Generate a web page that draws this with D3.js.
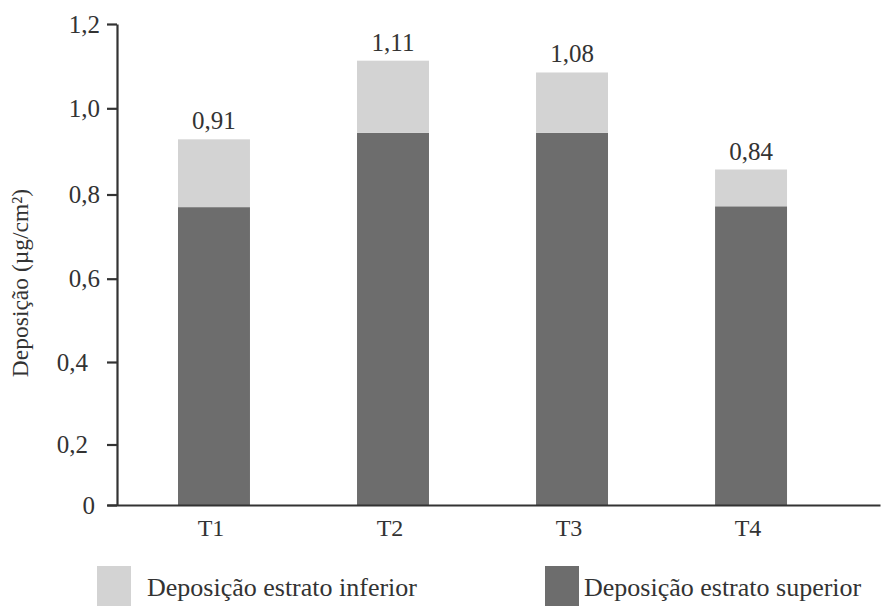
<!DOCTYPE html>
<html>
<head>
<meta charset="utf-8">
<script src="https://cdn.jsdelivr.net/npm/d3@7"></script>
<style>
  html, body { margin: 0; padding: 0; background: #fff; }
  svg { display: block; }
  text { font-family: "Liberation Serif", "Times New Roman", serif; fill: #333; }
</style>
</head>
<body>
<svg id="chart" width="881" height="606"></svg>
<script>
const categories = ["T1", "T2", "T3", "T4"];
const superior = [0.770, 0.943, 0.943, 0.772];
const inferior = [0.158, 0.170, 0.142, 0.086];
const valueLabels = ["0,91", "1,11", "1,08", "0,84"];
const yTickValues = [0, 0.2, 0.4, 0.6, 0.8, 1.0, 1.2];
const yTickLabels = ["0", "0,2", "0,4", "0,6", "0,8", "1,0", "1,2"];
const seriesNames = ["Deposição estrato inferior", "Deposição estrato superior"];
const yTitle = "Deposição (µg/cm²)";

const colLight = "#d3d3d3", colDark = "#6d6d6d", axisCol = "#333";
const svg = d3.select("#chart");
const FS = 25;

const rows = categories.map((c, i) => ({ cat: c, superior: superior[i], inferior: inferior[i] }));
const stack = d3.stack().keys(["superior", "inferior"])(rows);

const x = d3.scaleBand().domain(categories).range([107, 880])
  .paddingInner(0.598).paddingOuter(0.458).align(0.433);
const y = d3.scaleLinear().domain(yTickValues)
  .range([505, 444.5, 362, 278.7, 194.5, 108.3, 24]);

const color = { superior: colDark, inferior: colLight };

// bars
svg.append("g").selectAll("g").data(stack).join("g")
  .attr("fill", d => color[d.key])
  .selectAll("rect").data(d => d).join("rect")
  .attr("x", d => x(d.data.cat))
  .attr("width", x.bandwidth())
  .attr("y", d => y(d[1]))
  .attr("height", d => y(d[0]) - y(d[1]));

// value labels
svg.append("g").selectAll("text").data(stack[1]).join("text")
  .attr("x", d => x(d.data.cat) + x.bandwidth() / 2)
  .attr("y", d => y(d[1]) - 10)
  .attr("text-anchor", "middle")
  .style("font-size", FS + "px")
  .text((d, i) => valueLabels[i]);

// y axis
const yAxis = svg.append("g").attr("transform", "translate(117,0)")
  .call(d3.axisLeft(y).tickValues(yTickValues)
    .tickFormat((d, i) => yTickLabels[i])
    .tickSize(10).tickSizeOuter(0).tickPadding(7));
yAxis.select(".domain").attr("stroke", axisCol).attr("stroke-width", 2.2);
yAxis.selectAll(".tick line").attr("stroke", axisCol).attr("stroke-width", 2.2);
yAxis.selectAll(".tick text")
  .style("font-size", FS + "px")
  .attr("fill", "#333")
  .attr("dx", d => d === 0 ? -5 : (d <= 0.4 ? -12 : 0));

// x axis
const xAxis = svg.append("g").attr("transform", "translate(0,505)")
  .call(d3.axisBottom(x).tickSize(0).tickSizeOuter(0).tickPadding(14));
xAxis.select(".domain").attr("stroke", axisCol).attr("stroke-width", 2.2);
xAxis.selectAll(".tick text").style("font-size", "24px").attr("fill", "#333").attr("dx", -3);

// y title
svg.append("text")
  .attr("transform", "translate(28,283) rotate(-90)")
  .attr("text-anchor", "middle")
  .style("font-size", "23.5px")
  .text(yTitle);

// legend
const legend = [
  { name: seriesNames[0], color: colLight, rx: 97, tx: 147 },
  { name: seriesNames[1], color: colDark, rx: 545, tx: 584 }
];
const lg = svg.append("g").selectAll("g").data(legend).join("g");
lg.append("rect").attr("x", d => d.rx).attr("y", 566).attr("width", 34).attr("height", 40)
  .attr("fill", d => d.color);
lg.append("text").attr("x", d => d.tx).attr("y", 596)
  .style("font-size", "26px").text(d => d.name);
</script>
</body>
</html>
